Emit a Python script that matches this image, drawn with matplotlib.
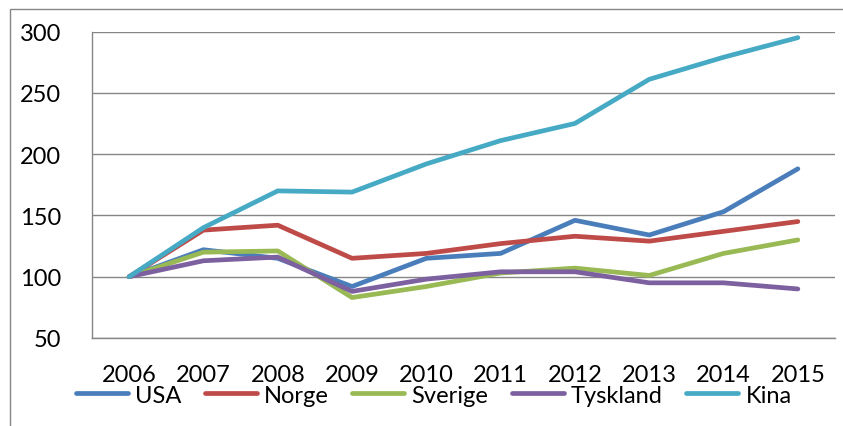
import matplotlib
matplotlib.use("Agg")
import matplotlib.pyplot as plt
from matplotlib.patches import Rectangle

# ── Data ──────────────────────────────────────────────────────────────────────
years = ["2006", "2007", "2008", "2009", "2010",
         "2011", "2012", "2013", "2014", "2015"]

usa      = [100, 122, 115, 92, 115, 119, 146, 134, 153, 188]
norge    = [100, 138, 142, 115, 119, 127, 133, 129, 137, 145]
sverige  = [100, 120, 121, 83, 92, 103, 107, 101, 119, 130]
tyskland = [100, 113, 116, 88, 98, 104, 104, 95, 95, 90]
kina     = [100, 140, 170, 169, 192, 211, 225, 261, 279, 295]

series = [
    ("USA",      usa,      "#4a7ebb"),
    ("Norge",    norge,    "#be4b48"),
    ("Sverige",  sverige,  "#98b954"),
    ("Tyskland", tyskland, "#7d60a0"),
    ("Kina",     kina,     "#46aac5"),
]

y_ticks = [50, 100, 150, 200, 250, 300]

# ── Figure ────────────────────────────────────────────────────────────────────
plt.rcParams["font.family"] = ["Lato", "DejaVu Sans"]
FS = 17

W, H = 843, 427
fig = plt.figure(figsize=(W / 100, H / 100), dpi=100)

# outer chart border (only left/top visible in the crop)
fig.patches.append(Rectangle((10 / W, -0.1), 1.2, 1 - 10 / H + 0.1,
                             transform=fig.transFigure, fill=False,
                             edgecolor="#868686", linewidth=1.0))

ax = fig.add_axes([92 / W, 1 - 339 / H, (835 - 92) / W, (339 - 32.5) / H])

x = list(range(len(years)))
for name, vals, col in series:
    ax.plot(x, vals, color=col, linewidth=3.4, label=name,
            solid_capstyle="round", solid_joinstyle="round")

ax.set_xlim(-0.5, len(years) - 0.5)
ax.set_ylim(50, 300)
ax.set_yticks(y_ticks)
ax.set_xticks(x)
ax.set_xticklabels(years)

ax.grid(axis="y", color="#868686", linewidth=1.0, zorder=0)
ax.set_axisbelow(True)
for side in ("top", "right"):
    ax.spines[side].set_visible(False)
for side in ("left", "bottom"):
    ax.spines[side].set_color("#868686")
    ax.spines[side].set_linewidth(1.0)

ax.tick_params(axis="y", length=0, pad=22, labelsize=FS)
ax.tick_params(axis="x", length=0, pad=19, labelsize=FS)

leg = ax.legend(loc="upper center", bbox_to_anchor=(0.46, -0.152),
                ncol=5, frameon=False, fontsize=FS,
                handlelength=2.2, handletextpad=0.3, columnspacing=1.0,
                borderaxespad=0, borderpad=0)
leg.set_zorder(5)

fig.savefig("out.png", dpi=100)
